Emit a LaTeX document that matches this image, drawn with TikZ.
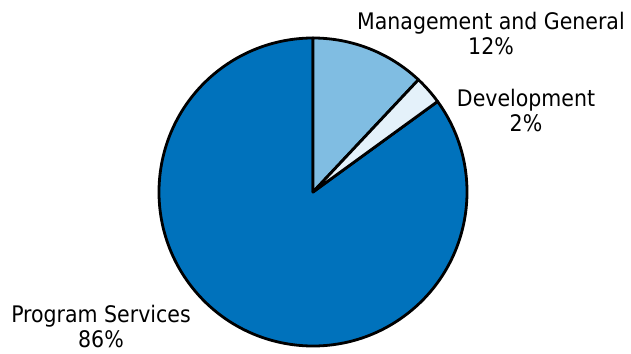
\documentclass[tikz,border=0pt]{standalone}
\usepackage{fontspec}
\setmainfont{DejaVu Sans Condensed}

\definecolor{progblue}{RGB}{0,114,188}
\definecolor{mgmtblue}{RGB}{128,189,226}
\definecolor{devblue}{RGB}{228,241,250}

\begin{document}
\begin{tikzpicture}[x=1pt, y=1pt, slice/.style={draw=black, line width=2.8pt, line join=round}, caption/.style={align=center, inner sep=0pt, font=\fontsize{22.8}{25}\selectfont}]

    \useasboundingbox (0,0) rectangle (631,353);
    \coordinate (centre) at (313,161);

    \filldraw[slice, fill=progblue] (centre) -- ++(36:154) arc (36:-270:154) -- cycle;
    \filldraw[slice, fill=mgmtblue] (centre) -- ++(90:154) arc (90:46.8:154) -- cycle;
    \filldraw[slice, fill=devblue] (centre) -- ++(46.8:154) arc (46.8:36:154) -- cycle;

    \node[caption] (mgmt) at (491,319.5) {Management and General\\12\%};
    \node[caption] (dev) at (526,242.5) {Development\\2\%};
    \node[caption] (prog) at (101,26.5) {Program Services\\86\%};

  \end{tikzpicture}
\end{document}
